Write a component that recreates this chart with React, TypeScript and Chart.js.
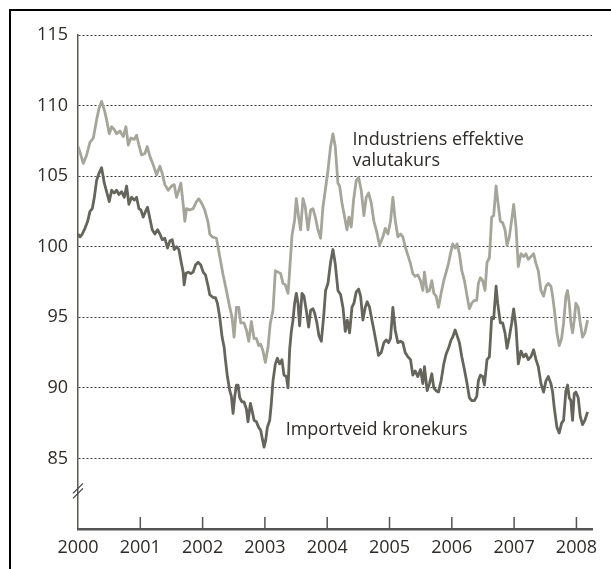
import React, { useEffect, useRef } from "react";
import { Chart, registerables } from "chart.js";

Chart.register(...registerables);

const industriDates = [
  2000.0, 2000.032, 2000.085, 2000.139, 2000.192, 2000.246, 2000.299, 2000.337, 2000.379, 2000.422,
  2000.459, 2000.502, 2000.54, 2000.582, 2000.62, 2000.673, 2000.726, 2000.769, 2000.807, 2000.849,
  2000.903, 2000.94, 2000.978, 2001.02, 2001.074, 2001.111, 2001.154, 2001.207, 2001.261, 2001.314,
  2001.352, 2001.394, 2001.448, 2001.501, 2001.544, 2001.581, 2001.619, 2001.651, 2001.688, 2001.715,
  2001.741, 2001.795, 2001.848, 2001.902, 2001.939, 2001.982, 2002.035, 2002.089, 2002.115,
  2002.153, 2002.222, 2002.275, 2002.329, 2002.382, 2002.436, 2002.473, 2002.505, 2002.543, 2002.58,
  2002.612, 2002.665, 2002.703, 2002.74, 2002.783, 2002.826, 2002.863, 2002.9, 2002.933, 2002.97,
  2003.007, 2003.05, 2003.087, 2003.13, 2003.168, 2003.21, 2003.253, 2003.29, 2003.328, 2003.371,
  2003.397, 2003.435, 2003.477, 2003.504, 2003.541, 2003.573, 2003.611, 2003.648, 2003.691, 2003.734,
  2003.771, 2003.809, 2003.851, 2003.894, 2003.931, 2003.969, 2004.012, 2004.054, 2004.092, 2004.129,
  2004.172, 2004.199, 2004.237, 2004.279, 2004.317, 2004.349, 2004.386, 2004.423, 2004.466, 2004.504,
  2004.546, 2004.589, 2004.626, 2004.664, 2004.707, 2004.749, 2004.787, 2004.84, 2004.894, 2004.931,
  2004.974, 2005.016, 2005.054, 2005.091, 2005.134, 2005.177, 2005.214, 2005.252, 2005.294, 2005.337,
  2005.374, 2005.412, 2005.454, 2005.497, 2005.535, 2005.561, 2005.604, 2005.641, 2005.679, 2005.711,
  2005.748, 2005.786, 2005.828, 2005.871, 2005.909, 2005.946, 2005.978, 2006.015, 2006.053, 2006.085,
  2006.122, 2006.16, 2006.202, 2006.245, 2006.282, 2006.32, 2006.362, 2006.4, 2006.426, 2006.458,
  2006.496, 2006.533, 2006.565, 2006.603, 2006.64, 2006.672, 2006.71, 2006.736, 2006.779, 2006.816,
  2006.854, 2006.886, 2006.923, 2006.961, 2006.993, 2007.03, 2007.067, 2007.11, 2007.153, 2007.19,
  2007.228, 2007.27, 2007.313, 2007.351, 2007.388, 2007.431, 2007.473, 2007.511, 2007.548, 2007.591,
  2007.618, 2007.644, 2007.687, 2007.724, 2007.762, 2007.794, 2007.831, 2007.858, 2007.885, 2007.911,
  2007.938, 2007.965, 2007.991, 2008.029, 2008.061, 2008.098, 2008.136, 2008.179,
];

const industriValues = [
  107.1, 106.7, 105.9, 106.5, 107.4, 107.7, 109.0, 109.8, 110.3, 109.7,
  109.0, 108.0, 108.5, 108.3, 108.0, 108.2, 107.8, 108.5, 107.2, 107.7,
  107.6, 107.9, 107.2, 106.5, 106.6, 107.1, 106.4, 105.8, 105.1, 105.7,
  105.2, 104.4, 104.0, 104.3, 104.4, 103.5, 104.0, 104.5, 103.0, 101.8,
  102.7, 102.6, 102.7, 103.2, 103.4, 103.1, 102.6, 101.7, 100.9,
  100.7, 100.6, 99.3, 98.0, 96.9, 95.7, 95.0, 93.6, 95.7, 95.7,
  94.6, 94.6, 94.1, 93.3, 94.7, 93.5, 93.5, 93.0, 93.1, 92.6,
  91.8, 92.9, 94.6, 95.5, 98.3, 98.2, 98.1, 97.4, 97.3, 96.7,
  98.3, 100.8, 101.9, 103.4, 102.1, 101.2, 103.4, 102.8, 101.2, 102.6,
  102.7, 102.1, 101.2, 100.6, 102.8, 104.0, 105.4, 107.1, 108.0, 107.1,
  104.5, 104.3, 103.1, 102.1, 101.2, 102.1, 101.4, 103.3, 104.7, 104.9,
  104.0, 102.2, 103.5, 103.8, 103.1, 101.8, 101.2, 100.1, 100.7, 101.3,
  100.9, 101.8, 103.5, 101.9, 100.7, 100.9, 100.7, 100.0, 99.4, 98.8,
  98.1, 97.9, 98.0, 97.6, 96.9, 98.2, 96.8, 96.9, 97.6, 96.7,
  96.5, 95.7, 96.7, 97.6, 98.2, 98.8, 99.5, 100.2, 99.9, 100.2,
  99.5, 98.3, 97.6, 96.5, 95.6, 96.0, 96.2, 96.2, 97.4, 97.8,
  97.6, 96.9, 98.9, 99.2, 102.1, 102.2, 104.3, 103.3, 101.8, 101.7,
  101.2, 100.1, 100.7, 101.9, 103.0, 101.4, 98.6, 99.5, 99.3, 99.5,
  99.1, 99.3, 99.5, 98.8, 98.3, 96.9, 96.5, 97.2, 97.4, 97.2,
  96.5, 95.6, 93.9, 93.0, 93.5, 94.6, 96.5, 96.9, 96.0, 94.6,
  93.9, 94.8, 96.0, 95.7, 94.6, 93.6, 93.9, 94.8,
];

const importDates = [
  2000.0, 2000.032, 2000.069, 2000.112, 2000.155, 2000.192, 2000.23, 2000.262, 2000.299, 2000.337,
  2000.379, 2000.422, 2000.459, 2000.502, 2000.54, 2000.582, 2000.62, 2000.657, 2000.7, 2000.743,
  2000.78, 2000.817, 2000.86, 2000.903, 2000.94, 2000.978, 2001.01, 2001.047, 2001.084, 2001.116,
  2001.154, 2001.191, 2001.234, 2001.277, 2001.314, 2001.352, 2001.394, 2001.437, 2001.474, 2001.512,
  2001.544, 2001.581, 2001.619, 2001.661, 2001.688, 2001.704, 2001.731, 2001.768, 2001.811, 2001.848,
  2001.886, 2001.928, 2001.971, 2002.009, 2002.046, 2002.089, 2002.115,
  2002.169, 2002.206, 2002.238, 2002.275, 2002.313, 2002.345, 2002.366, 2002.398, 2002.436, 2002.462,
  2002.489, 2002.516, 2002.543, 2002.569, 2002.596, 2002.633, 2002.665, 2002.703, 2002.729, 2002.767,
  2002.794, 2002.826, 2002.863, 2002.9, 2002.932, 2002.959, 2002.986, 2003.013, 2003.039, 2003.077,
  2003.103, 2003.13, 2003.168, 2003.2, 2003.237, 2003.274, 2003.306, 2003.344, 2003.371, 2003.397,
  2003.424, 2003.451, 2003.477, 2003.504, 2003.531, 2003.557, 2003.595, 2003.627, 2003.664, 2003.702,
  2003.734, 2003.771, 2003.798, 2003.835, 2003.867, 2003.905, 2003.942, 2003.974, 2004.012, 2004.054,
  2004.092, 2004.129, 2004.172,
  2004.215, 2004.253, 2004.29, 2004.322, 2004.359, 2004.397, 2004.429, 2004.466, 2004.504, 2004.536,
  2004.573, 2004.61, 2004.642, 2004.68, 2004.717, 2004.749, 2004.787, 2004.824, 2004.867, 2004.91,
  2004.947, 2004.984, 2005.016, 2005.054, 2005.091, 2005.134, 2005.177, 2005.214, 2005.252, 2005.294,
  2005.337, 2005.374, 2005.412, 2005.454, 2005.497, 2005.535, 2005.561, 2005.604, 2005.641, 2005.679,
  2005.711, 2005.748, 2005.786, 2005.828, 2005.871, 2005.909, 2005.946, 2005.989, 2006.015, 2006.053,
  2006.085, 2006.122, 2006.16, 2006.202, 2006.245, 2006.282,
  2006.32, 2006.362, 2006.4, 2006.426, 2006.458, 2006.496, 2006.523, 2006.565, 2006.603, 2006.64,
  2006.672, 2006.71, 2006.736, 2006.779, 2006.816, 2006.854, 2006.886, 2006.923, 2006.961, 2006.993,
  2007.03, 2007.067, 2007.11, 2007.153, 2007.19, 2007.228, 2007.27, 2007.313, 2007.351, 2007.388,
  2007.431, 2007.473, 2007.511, 2007.548, 2007.591, 2007.618, 2007.644, 2007.687, 2007.724, 2007.762,
  2007.794, 2007.831, 2007.858, 2007.885, 2007.911, 2007.938, 2007.965, 2007.991, 2008.029, 2008.061,
  2008.098, 2008.136, 2008.179,
];

const importValues = [
  100.9, 100.7, 100.9, 101.3, 101.8, 102.5, 102.7, 103.5, 104.7, 105.2,
  105.6, 104.5, 103.9, 103.2, 104.0, 103.8, 104.0, 103.7, 103.9, 103.5,
  104.3, 103.0, 103.5, 103.3, 103.5, 102.7, 102.6, 102.1, 102.5, 102.8,
  102.0, 101.2, 100.9, 101.2, 100.9, 100.5, 100.6, 99.9, 100.4, 100.5,
  99.8, 100.0, 99.8, 98.8, 98.2, 97.3, 98.1, 98.2, 98.1, 98.2,
  98.7, 98.9, 98.7, 98.2, 98.0, 97.2, 96.6,
  96.4, 96.4, 96.0, 95.0, 93.6, 92.9, 92.0, 90.8, 89.8, 89.4,
  88.2, 89.4, 90.2, 90.2, 89.3, 89.0, 89.0, 88.5, 87.6, 88.9,
  88.4, 87.7, 87.6, 87.2, 87.0, 86.4, 85.8, 86.3, 87.2, 87.7,
  88.9, 90.5, 91.7, 92.1, 91.7, 92.0, 90.9, 90.8, 90.0, 92.7,
  94.0, 94.8, 96.0, 96.7, 96.0, 94.4, 96.7, 96.5, 95.5, 94.3,
  95.5, 95.6, 95.3, 94.6, 93.7, 93.3, 95.0, 96.9, 97.4, 98.9,
  99.8, 98.8, 96.9,
  96.6, 95.7, 94.0, 94.8, 93.9, 95.7, 96.0, 96.8, 97.0, 96.5,
  94.8, 95.7, 96.1, 95.7, 94.8, 94.1, 93.2, 92.3, 92.5, 93.2,
  93.4, 93.2, 93.5, 95.7, 94.1, 93.2, 93.3, 93.2, 92.5, 92.2,
  92.0, 90.9, 91.2, 90.8, 91.3, 90.3, 91.5, 89.8, 90.3, 91.0,
  90.0, 89.8, 89.7, 90.5, 91.7, 92.4, 92.8, 93.4, 93.6, 94.1,
  93.7, 93.2, 92.2, 91.3, 90.3, 89.3,
  89.1, 89.1, 89.4, 90.5, 90.9, 90.8, 90.2, 92.0, 92.2, 95.0,
  94.9, 97.2, 96.0, 94.6, 94.6, 93.9, 92.8, 93.6, 94.6, 95.6,
  94.3, 91.7, 92.6, 92.2, 92.4, 92.0, 92.2, 92.7, 92.0, 91.5,
  90.3, 89.7, 90.5, 90.8, 90.3, 89.7, 88.6, 87.2, 86.8, 87.5,
  87.7, 89.8, 90.2, 89.3, 89.1, 87.7, 89.6, 89.7, 89.3, 88.0,
  87.4, 87.7, 88.3,
];

const yearTicks = [2000, 2001, 2002, 2003, 2004, 2005, 2006, 2007, 2008];
const valueTicks = [85, 90, 95, 100, 105, 110, 115];
const industriLabel = ["Industriens effektive", "valutakurs"];
const importLabel = "Importveid kronekurs";

const FONT = '"Open Sans", "Noto Sans", sans-serif';
const TEXT = "#2e2b28";
const LIGHT = "#a5a59a";
const DARK = "#65655b";

const decor = {
  id: "decor",
  afterDraw(chart: any) {
    const { ctx, chartArea } = chart;
    const x = chart.scales.x;
    const y = chart.scales.y;
    ctx.save();
    // outer frame (open on right and bottom)
    ctx.strokeStyle = "#000";
    ctx.lineWidth = 2;
    ctx.beginPath();
    ctx.moveTo(10, chart.height);
    ctx.lineTo(10, 10);
    ctx.lineTo(chart.width, 10);
    ctx.stroke();

    // inward year tick marks
    ctx.strokeStyle = "#555";
    ctx.lineWidth = 1.5;
    ctx.beginPath();
    yearTicks.slice(1).forEach((yr) => {
      const px = x.getPixelForValue(yr);
      ctx.moveTo(px, chartArea.bottom);
      ctx.lineTo(px, chartArea.bottom - 12);
    });
    ctx.stroke();

    // axis break mark
    const by = y.getPixelForValue(82.7);
    const ax = chartArea.left;
    ctx.strokeStyle = "#444";
    ctx.lineWidth = 1.3;
    ctx.beginPath();
    [-2.5, 2.5].forEach((off) => {
      ctx.moveTo(ax - 5, by + off + 5);
      ctx.lineTo(ax + 5, by + off - 5);
    });
    ctx.stroke();

    // series labels
    ctx.fillStyle = TEXT;
    ctx.font = `18px ${FONT}`;
    ctx.textAlign = "left";
    ctx.textBaseline = "alphabetic";
    ctx.fillText(industriLabel[0], x.getPixelForValue(2004.407), y.getPixelForValue(107.2));
    ctx.fillText(industriLabel[1], x.getPixelForValue(2004.407), y.getPixelForValue(105.7));
    ctx.fillText(importLabel, x.getPixelForValue(2003.333), y.getPixelForValue(86.65));
    ctx.restore();
  },
};

export default function App() {
  const ref = useRef<HTMLCanvasElement>(null);

  useEffect(() => {
    let chart: Chart | null = null;
    let cancelled = false;
    const build = () => {
      if (cancelled || !ref.current) return;
      chart = new Chart(ref.current, {
        type: "line",
        data: {
          datasets: [
            {
              label: "Industriens effektive valutakurs",
              data: industriDates.map((d, i) => ({ x: d, y: industriValues[i] })),
              borderColor: LIGHT,
              borderWidth: 2.8,
              pointRadius: 0,
              tension: 0,
              borderJoinStyle: "round",
            },
            {
              label: "Importveid kronekurs",
              data: importDates.map((d, i) => ({ x: d, y: importValues[i] })),
              borderColor: DARK,
              borderWidth: 2.8,
              pointRadius: 0,
              tension: 0,
              borderJoinStyle: "round",
            },
          ],
        },
        options: {
          responsive: false,
          animation: false,
          devicePixelRatio: 1,
          layout: { padding: { top: 35, right: 19, left: 0, bottom: 0 } },
          plugins: {
            legend: { display: false },
            tooltip: { enabled: false },
          },
          scales: {
            x: {
              type: "linear",
              min: 2000,
              max: 2008.25,
              afterBuildTicks: (axis: any) => {
                axis.ticks = yearTicks.map((v) => ({ value: v }));
              },
              afterFit: (scale: any) => {
                scale.height = 40;
              },
              grid: { display: false, drawTicks: false },
              border: { display: true, color: "#555", width: 2.5 },
              ticks: {
                padding: 8,
                color: TEXT,
                font: { family: FONT, size: 18 },
                maxRotation: 0,
                autoSkip: false,
                callback: (v: any) => String(v),
              },
            },
            y: {
              type: "linear",
              min: 80,
              max: 115,
              afterBuildTicks: (axis: any) => {
                axis.ticks = valueTicks.map((v) => ({ value: v }));
              },
              afterFit: (scale: any) => {
                scale.width = 78;
              },
              grid: { color: "#3a3a3a", lineWidth: 1, drawTicks: false },
              border: { display: true, color: "#5a5a52", width: 1.5, dash: [2, 2] },
              ticks: {
                padding: 10,
                color: TEXT,
                font: { family: FONT, size: 18 },
                callback: (v: any) => String(v),
              },
            },
          },
        },
        plugins: [decor],
      } as any);
    };
    const fonts: any = (document as any).fonts;
    if (fonts && fonts.load) {
      fonts.load(`18px "Open Sans"`).then(build, build);
    } else {
      build();
    }
    return () => {
      cancelled = true;
      if (chart) chart.destroy();
    };
  }, []);

  return (
    <div style={{ position: "absolute", left: 0, top: 0, width: 611, height: 569, background: "#fff" }}>
      <canvas ref={ref} width={611} height={569} style={{ display: "block", width: 611, height: 569 }} />
    </div>
  );
}
